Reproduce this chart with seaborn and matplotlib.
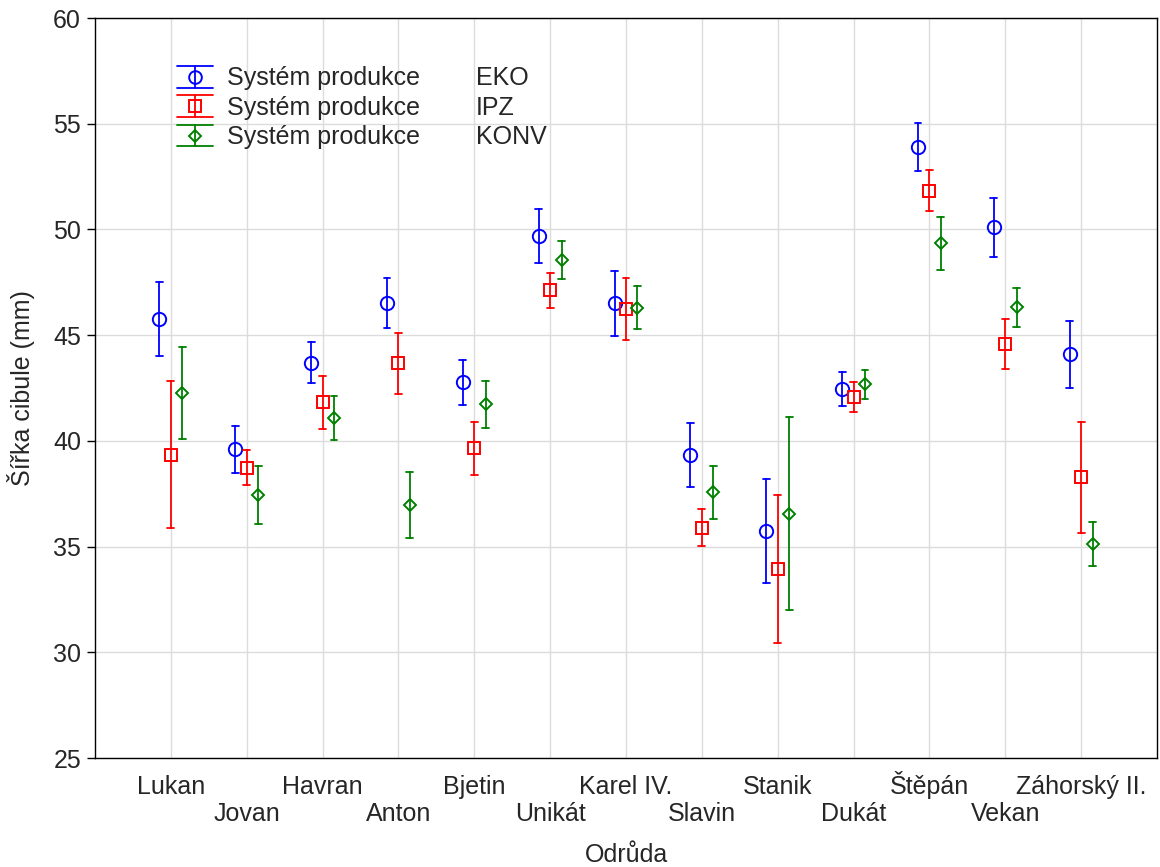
import numpy as np
import pandas as pd
import matplotlib
matplotlib.use("Agg")
import matplotlib.pyplot as plt
import matplotlib.transforms as mtransforms
from matplotlib.lines import Line2D
from matplotlib.patches import Rectangle
from matplotlib.legend_handler import HandlerBase
import seaborn as sns

# ---------------- data ----------------
odrudy = ["Lukan", "Jovan", "Havran", "Anton", "Bjetin", "Unikát", "Karel IV.",
          "Slavin", "Stanik", "Dukát", "Štěpán", "Vekan", "Záhorský II."]
systemy = ["EKO", "IPZ", "KONV"]

eko_mean = [45.75, 39.60, 43.69, 46.52, 42.77, 49.68, 46.50, 39.35, 35.73, 42.45, 53.88, 50.11, 44.09]
eko_lo   = [44.01, 38.50, 42.72, 45.33, 41.70, 48.41, 44.95, 37.84, 33.28, 41.65, 52.74, 48.69, 42.51]
eko_hi   = [47.49, 40.72, 44.68, 47.72, 43.84, 50.96, 48.03, 40.85, 38.18, 43.25, 55.03, 51.50, 45.66]

ipz_mean = [39.34, 38.73, 41.85, 43.66, 39.64, 47.12, 46.23, 35.88, 33.94, 42.08, 51.84, 44.58, 38.27]
ipz_lo   = [35.88, 37.91, 40.58, 42.23, 38.40, 46.30, 44.76, 35.01, 30.44, 41.35, 50.88, 43.40, 35.64]
ipz_hi   = [42.83, 39.56, 43.07, 45.11, 40.87, 47.94, 47.69, 36.78, 37.43, 42.77, 52.82, 45.74, 40.88]

konv_mean = [42.27, 37.44, 41.07, 36.98, 41.73, 48.57, 46.29, 37.56, 36.56, 42.69, 49.34, 46.32, 35.14]
konv_lo   = [40.08, 36.08, 40.03, 35.39, 40.63, 47.64, 45.27, 36.32, 32.00, 41.99, 48.10, 45.39, 34.10]
konv_hi   = [44.45, 38.80, 42.11, 38.55, 42.83, 49.47, 47.33, 38.82, 41.12, 43.36, 50.60, 47.25, 36.16]

y_ticks = [25, 30, 35, 40, 45, 50, 55, 60]

# ---------------- long table ----------------
rows = []
for sys_name, m, lo, hi in [("EKO", eko_mean, eko_lo, eko_hi),
                            ("IPZ", ipz_mean, ipz_lo, ipz_hi),
                            ("KONV", konv_mean, konv_lo, konv_hi)]:
    for od, a, b, c in zip(odrudy, m, lo, hi):
        for v in (b, a, c):
            rows.append({"Odrůda": od, "Systém": sys_name, "Šířka": v})
df = pd.DataFrame(rows)

# ---------------- style ----------------
sns.set_style("whitegrid", {"grid.color": "#dcdcdc", "axes.edgecolor": "black",
                            "axes.linewidth": 1.0})
plt.rcParams["font.family"] = ["Liberation Sans", "DejaVu Sans"]
plt.rcParams["font.size"] = 18

colors = {"EKO": "#0000ff", "IPZ": "#ff0000", "KONV": "#008000"}
markers = {"EKO": "o", "IPZ": "s", "KONV": "D"}
msizes = {"o": 9.6, "s": 9.2, "D": 6.4}

fig = plt.figure(figsize=(11.6, 8.67), dpi=100)
ax = fig.add_axes([95 / 1160, 1 - 758 / 867, (1157 - 95) / 1160, (758 - 18) / 867])

sns.pointplot(data=df, x="Odrůda", y="Šířka", hue="Systém", order=odrudy,
              hue_order=systemy, palette=colors, markers=[markers[s] for s in systemy],
              linestyles="none", estimator="median",
              errorbar=lambda v: (np.min(v), np.max(v)),
              dodge=0.3, capsize=0.09, err_kws={"linewidth": 1.3},
              markersize=9.5, markeredgewidth=1.4, markerfacecolor="none",
              legend=False, ax=ax)

for ln in ax.lines:
    mk = ln.get_marker()
    if mk in msizes:
        ln.set_markersize(msizes[mk])
        ln.set_markerfacecolor("none")

ax.set_xlim(-1, 13)
ax.set_ylim(25, 60)
ax.set_yticks(y_ticks)
ax.set_xticks(range(len(odrudy)))
ax.tick_params(axis="x", direction="in", length=4, pad=26, labelsize=18, color="black")
ax.tick_params(axis="y", direction="out", length=6, width=1, pad=4, labelsize=18,
               color="black", left=True)
ax.set_xticklabels(odrudy)
for i, lab in enumerate(ax.get_xticklabels()):
    lab.set_verticalalignment("baseline")
    if i % 2 == 1:
        lab.set_transform(lab.get_transform() +
                          mtransforms.ScaledTranslation(0, -0.27, fig.dpi_scale_trans))
ax.grid(True, color="#dcdcdc", linewidth=1.0)
for sp in ax.spines.values():
    sp.set_visible(True)
    sp.set_color("black")
    sp.set_linewidth(1.0)

ax.set_xlabel("Odrůda", fontsize=18, labelpad=12)
ax.set_ylabel("Šířka cibule (mm)", fontsize=18, labelpad=13)


# ---------------- legend ----------------
class ErrHandler(HandlerBase):
    def create_artists(self, legend, orig_handle, xdescent, ydescent, width, height,
                       fontsize, trans):
        c = orig_handle.get_color()
        mk = orig_handle.get_marker()
        x0, x1 = -xdescent, -xdescent + width
        y0, y1 = -ydescent, -ydescent + height
        cx, cy = (x0 + x1) / 2, (y0 + y1) / 2
        arts = [Line2D([cx, cx], [y0, y1], color=c, lw=1.3),
                Line2D([x0, x1], [y1, y1], color=c, lw=1.3),
                Line2D([x0, x1], [y0, y0], color=c, lw=1.3),
                Line2D([cx], [cy], marker=mk, ms=msizes[mk] * 0.95, mfc="none",
                       mec=c, mew=1.4, ls="none")]
        for a in arts:
            a.set_transform(trans)
        return arts


handles = [Line2D([], [], color=colors[s], marker=markers[s]) for s in systemy]
blanks = [Rectangle((0, 0), 1, 1, facecolor="none", edgecolor="none") for s in systemy]
labels = ["Systém produkce"] * 3 + systemy
ax.legend(handles + blanks, labels, ncol=2, loc="upper left",
          bbox_to_anchor=(82 / 1062, 1 - 48 / 740), frameon=False, fontsize=18,
          handlelength=1.45, handleheight=0.95, handletextpad=0.56,
          columnspacing=0.23, labelspacing=0.2, borderpad=0, borderaxespad=0,
          handler_map={Line2D: ErrHandler()})

fig.savefig("out.png", dpi=100)
